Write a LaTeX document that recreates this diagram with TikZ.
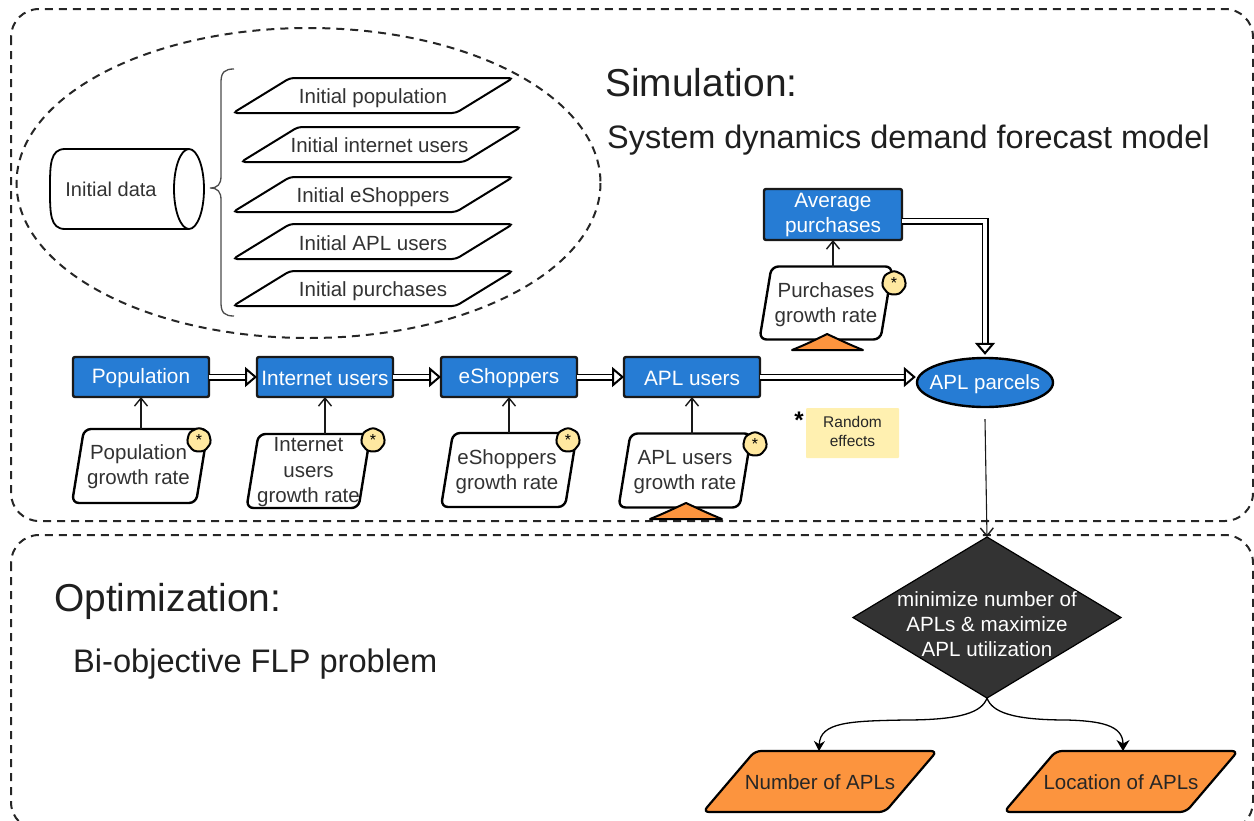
\documentclass[tikz,border=0pt]{standalone}
\usepackage{fontspec}
\setmainfont{Liberation Sans}
\usetikzlibrary{shapes.geometric,arrows.meta}
\definecolor{boxblue}{RGB}{38,124,212}
\definecolor{orangefill}{RGB}{252,148,62}
\definecolor{noteyellow}{RGB}{255,240,176}
\definecolor{blobyellow}{RGB}{255,232,160}
\definecolor{txt}{RGB}{50,50,50}
\newcommand{\fs}[1]{\fontsize{#1}{#1}\selectfont}
\newdimen\skxa \newdimen\skxb \newdimen\skya \newdimen\skyb \newdimen\skxc \newdimen\skxd \newdimen\skxm \newdimen\skym \newdimen\skh
\def\skewval{0pt}\def\dropval{0pt}\def\shiftval{0pt}
\makeatletter
\def\sk@textanchor{%
  \pgf@x=\shiftval\relax
  \pgf@y=-\dropval\relax
}
\def\sk@corners{%
  \southwest \skxa=\pgf@x \skya=\pgf@y
  \northeast \skxb=\pgf@x \skyb=\pgf@y
  \skxm=\skxa \advance\skxm by \skxb \divide\skxm by 2
  \skym=\skya \advance\skym by \skyb \divide\skym by 2
  \skh=\skyb \advance\skh by -\skym
}
\pgfdeclareshape{skewbox}{
  \inheritsavedanchors[from=rectangle]
  \inheritanchorborder[from=rectangle]
  \inheritanchor[from=rectangle]{center}
  \inheritanchor[from=rectangle]{north}
  \inheritanchor[from=rectangle]{south}
  \inheritanchor[from=rectangle]{east}
  \inheritanchor[from=rectangle]{west}
  \anchor{text}{\sk@textanchor}
  \backgroundpath{
    \sk@corners
    \skxc=\skxa \advance\skxc by \skewval\relax
    \skxd=\skxb \advance\skxd by -\skewval\relax
    \pgfpathmoveto{\pgfpoint{\skxm}{\skya}}
    \pgfpathlineto{\pgfpoint{\skxa}{\skya}}
    \pgfpathlineto{\pgfpoint{\skxc}{\skyb}}
    \pgfpathlineto{\pgfpoint{\skxb}{\skyb}}
    \pgfpathlineto{\pgfpoint{\skxd}{\skya}}
    \pgfpathclose
  }
}
\pgfdeclareshape{kite}{
  \inheritsavedanchors[from=rectangle]
  \inheritanchorborder[from=rectangle]
  \inheritanchor[from=rectangle]{center}
  \inheritanchor[from=rectangle]{north}
  \inheritanchor[from=rectangle]{south}
  \inheritanchor[from=rectangle]{east}
  \inheritanchor[from=rectangle]{west}
  \anchor{text}{\sk@textanchor}
  \backgroundpath{
    \sk@corners
    \pgfpathmoveto{\pgfpoint{\skxm}{\skya}}
    \pgfpathlineto{\pgfpoint{\skxa}{\skym}}
    \pgfpathlineto{\pgfpoint{\skxm}{\skyb}}
    \pgfpathlineto{\pgfpoint{\skxb}{\skym}}
    \pgfpathclose
  }
}
\pgfdeclareshape{drum}{
  \inheritsavedanchors[from=rectangle]
  \inheritanchorborder[from=rectangle]
  \inheritanchor[from=rectangle]{center}
  \inheritanchor[from=rectangle]{north}
  \inheritanchor[from=rectangle]{south}
  \inheritanchor[from=rectangle]{east}
  \inheritanchor[from=rectangle]{west}
  \anchor{text}{\sk@textanchor}
  \backgroundpath{
    \sk@corners
    \skxc=\skxa \advance\skxc by 15pt\relax
    \skxd=\skxb \advance\skxd by -15pt\relax
    \pgfpathmoveto{\pgfpoint{\skxd}{\skya}}
    \pgfpathlineto{\pgfpoint{\skxc}{\skya}}
    \pgfpathcurveto{\pgfpoint{\skxa}{\skya}}{\pgfpoint{\skxa}{\dimexpr\skym-.6\skh\relax}}{\pgfpoint{\skxa}{\skym}}
    \pgfpathcurveto{\pgfpoint{\skxa}{\dimexpr\skym+.6\skh\relax}}{\pgfpoint{\skxa}{\skyb}}{\pgfpoint{\skxc}{\skyb}}
    \pgfpathlineto{\pgfpoint{\skxd}{\skyb}}
    \pgfpathellipse{\pgfpoint{\skxd}{\skym}}{\pgfpoint{15pt}{0pt}}{\pgfpoint{0pt}{\skh}}
  }
}
\makeatother
\tikzset{
  skewamt/.store in=\skewval,
  textdrop/.store in=\dropval,
  textshift/.store in=\shiftval,
  panel/.style={draw=black!85,line width=2pt,dash pattern=on 8pt off 6pt,rounded corners=28pt},
  bluebox/.style={shape=skewbox,skewamt=0pt,textdrop=1.5pt,draw=black!90,line width=2.4pt,outer sep=0pt,fill=boxblue,text=white,rounded corners=2pt,inner sep=0pt,align=center,font=\fontsize{20.8}{25}\selectfont},
  slant/.style={shape=skewbox,draw=black,line width=#1,fill=white,inner sep=0pt,outer sep=0pt,align=center,text=txt,font=\fontsize{20.5}{25.5}\selectfont},
  initp/.style={slant=2pt,skewamt=57pt,textdrop=2.5pt,minimum width=280pt,minimum height=35pt,rounded corners=4pt},
  growth/.style={slant=2.4pt,skewamt=12pt,textdrop=1.5pt,minimum width=136pt,minimum height=74pt,rounded corners=7pt},
  result/.style={slant=2.2pt,skewamt=52pt,textdrop=0.5pt,minimum width=234pt,minimum height=61pt,fill=orangefill,rounded corners=6pt,text=black!85},
  blob/.style={regular polygon,regular polygon sides=7,draw=black,line width=2pt,fill=blobyellow,minimum size=25pt,inner sep=0pt,rounded corners=3pt,font=\fontsize{16}{16}\selectfont},
  flow/.style={draw=black,line width=1.7pt,double=white,double distance=3.6pt,-{Triangle[open,fill=white,length=12pt,width=20pt,line width=2pt]}},
  thinarr/.style={draw=black!90,line width=1.5pt,-{Straight Barb[length=8pt,width=13pt,line width=1.4pt]}},
  curvearr/.style={draw=black,line width=1.3pt},
  hat/.style={draw=black,line width=2pt,fill=orangefill,line join=round}
}
\begin{document}
\begin{tikzpicture}[x=1pt,y=-1pt]
\useasboundingbox (0,0) rectangle (1254,820);
\clip (0,0) rectangle (1254,820);
% panels
\draw[panel] (11,9) rectangle (1253,521);
\draw[panel] (11,535) rectangle (1253,830);
\draw[draw=black!85,line width=2pt,dash pattern=on 8pt off 6pt] (308.5,183) ellipse [x radius=292,y radius=155];
% titles
\node[anchor=base west,inner sep=0pt,text=black!88,font=\fs{38.9}] (tsim) at (605,96) {Simulation:};
\node[anchor=base west,inner sep=0pt,text=black!88,font=\fs{32.45}] (tsd) at (607,148) {System dynamics demand forecast model};
\node[anchor=base west,inner sep=0pt,text=black!88,font=\fs{38.9}] (topt) at (54,611) {Optimization:};
\node[anchor=base west,inner sep=0pt,text=black!88,font=\fs{32.6}] (tbi) at (73,672) {Bi-objective FLP problem};
% initial data
\node[shape=drum,textshift=-16pt,textdrop=0pt,draw=black,line width=1.8pt,outer sep=0pt,minimum width=154pt,minimum height=80pt,inner sep=0pt,text=txt,font=\fs{20}] (idata) at (127,189) {Initial data};
\draw[black!70,line width=1.3pt] (234,69) .. controls (225,69) and (221,72) .. (221,82) -- (221,176) .. controls (221,184) and (218,188) .. (210,188) .. controls (218,188) and (221,192) .. (221,200) -- (221,303) .. controls (221,313) and (225,316) .. (234,316);
\node[initp] (ipop) at (373,95.5) {Initial population};
\node[initp,textdrop=0.5pt,textshift=-1.5pt] (iint) at (381,144.5) {Initial internet users};
\node[initp] (ieso) at (373,194.5) {Initial eShoppers};
\node[initp,textdrop=1.5pt] (iapl) at (373,241.5) {Initial APL users};
\node[initp] (ipur) at (373,288.5) {Initial purchases};
% flow boxes
\node[bluebox,minimum width=136pt,minimum height=40pt] (pop) at (141,377) {Population};
\node[bluebox,minimum width=136pt,minimum height=40pt] (int) at (325,377) {Internet users};
\node[bluebox,minimum width=136pt,minimum height=40pt] (esh) at (509,377) {eShoppers};
\node[bluebox,minimum width=136pt,minimum height=40pt] (apl) at (692,377) {APL users};
\node[bluebox,textdrop=0pt,minimum width=138pt,minimum height=51pt] (avg) at (833,214.5) {Average\\purchases};
\node[ellipse,draw=black,line width=2.4pt,fill=boxblue,text=white,inner sep=0pt,minimum width=136pt,minimum height=49pt,font=\fs{20.5}] (par) at (985,382.5) {\smash{\makebox[0pt]{\raisebox{-7pt}{APL parcels}}}};
% growth parallelograms
\node[growth,textdrop=0.5pt,textshift=-1.5pt] (gpop) at (140,466) {Population\\growth rate};
\node[growth,minimum width=124pt] (gint) at (308.5,471) {Internet\\users\\growth rate};
\node[growth,textshift=-2pt] (gesh) at (509,470) {eShoppers\\growth rate};
\node[growth,minimum width=133pt] (gapl) at (685,470.5) {APL users\\growth rate};
\node[growth,minimum width=133pt,minimum height=73pt] (gpur) at (826,303) {Purchases\\growth rate};
\draw[hat] (650,519) .. controls (665,513) and (675,508) .. (686,503) .. controls (697,508) and (707,513) .. (722,519) -- cycle;
\draw[hat] (792,350) .. controls (807,344) and (817,339) .. (827,334) .. controls (838,339) and (848,344) .. (863,350) -- cycle;
\node[blob] (bpop) at (199,440) {*};
\node[blob] (bint) at (373,440) {*};
\node[blob] (besh) at (568,440) {*};
\node[blob] (bapl) at (755,444) {*};
\node[blob] (bpur) at (894,283) {*};
% note
\node[shape=skewbox,skewamt=0pt,textdrop=-1.5pt,fill=noteyellow,rounded corners=1pt,minimum width=93pt,minimum height=50pt,inner sep=0pt,outer sep=0pt,align=center,text=black!85,font=\fontsize{15.5}{19}\selectfont] (note) at (852.5,433) {Random\\effects};
\node[inner sep=0pt,font=\bfseries\fs{24}] (star) at (799,420) {*};
% connectors
\draw[flow] (pop.east) -- (int.west);
\draw[flow] (int.east) -- (esh.west);
\draw[flow] (esh.east) -- (apl.west);
\draw[flow] (apl.east) -- (apl.east -| par.west);
\draw[flow] ([yshift=-6.5pt]avg.east) -| ([yshift=2pt]par.north);
\draw[thinarr] (pop.south |- gpop.north) -- (pop.south);
\draw[thinarr] (int.south |- gint.north) -- (int.south);
\draw[thinarr] (esh.south |- gesh.north) -- (esh.south);
\draw[thinarr] (apl.south |- gapl.north) -- (apl.south);
\draw[thinarr] (avg.south |- gpur.north) -- (avg.south);
% optimization
\node[shape=kite,textdrop=6.5pt,draw=black,line width=1.2pt,outer sep=0pt,fill=black!80,text=white,minimum width=268pt,minimum height=161pt,inner sep=0pt,align=center,font=\fontsize{20.6}{24.7}\selectfont] (dia) at (987,617.5) {minimize number of\\APLs \& maximize\\APL utilization};
\node[result] (napl) at (820,781.5) {Number of APLs};
\node[result] (lapl) at (1121,781.5) {Location of APLs};
\draw[thinarr,line width=1.1pt] ([yshift=-11pt]par.south) -- (dia.north);
\coordinate (ml) at (905,720);
\coordinate (mr) at (1067,720);
\draw[curvearr,-{Stealth[length=10pt,width=11pt]}] (dia.south) .. controls (982,712) and (962,720) .. (ml) .. controls (850,721) and (820,722) .. (napl.north -| 819,0);
\draw[curvearr,-{Stealth[length=11pt,width=13pt]}] (dia.south) .. controls (992,712) and (1012,720) .. (mr) .. controls (1100,721) and (1123,725) .. (lapl.north -| 1123,0);
\end{tikzpicture}
\end{document}
